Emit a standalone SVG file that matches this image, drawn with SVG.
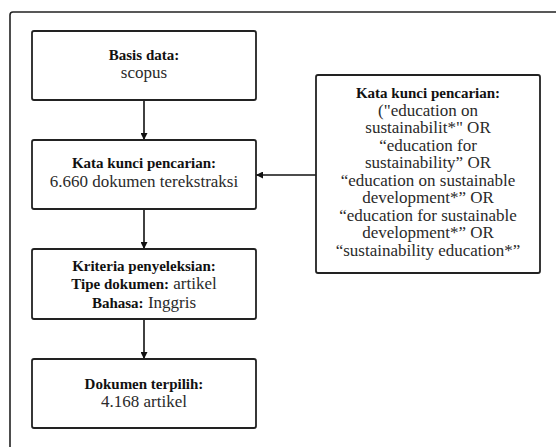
<svg xmlns="http://www.w3.org/2000/svg" width="556" height="447" viewBox="0 0 556 447">
<defs>
<style>
.box{fill:#fff;stroke:#222;stroke-width:1.8}
.frame{fill:none;stroke:#222;stroke-width:1.6}
.t{font-family:"Liberation Serif","Times New Roman",serif;text-anchor:middle;fill:#2a2a2a;font-size:17px}
.b{font-weight:bold;font-size:15px;fill:#111}
.edge{stroke:#111;stroke-width:1.6;fill:none;marker-end:url(#ah)}
</style>
<marker id="ah" viewBox="0 0 10 10" refX="10" refY="5" markerWidth="7" markerHeight="7" markerUnits="userSpaceOnUse" orient="auto">
<path d="M0,0 L10,5 L0,10 z" fill="#111"/>
</marker>
</defs>
<rect width="556" height="447" fill="#fff"/>
<rect class="frame" x="10" y="12" width="570" height="460" rx="3"/>
<g id="connectors">
<line class="edge" x1="144" y1="100" x2="144" y2="140"/>
<line class="edge" x1="144" y1="209" x2="144" y2="249"/>
<line class="edge" x1="144" y1="319" x2="144" y2="359"/>
<line class="edge" x1="316" y1="175" x2="256" y2="175"/>
</g>
<g id="basis-data">
<rect class="box" x="32" y="31" width="224" height="69" rx="2"/>
<text class="t" x="144" y="60"><tspan class="b">Basis data:</tspan></text>
<text class="t" x="144" y="78">scopus</text>
</g>
<g id="kata-kunci">
<rect class="box" x="32" y="140" width="224" height="69" rx="2"/>
<text class="t" x="144" y="168"><tspan class="b">Kata kunci pencarian:</tspan></text>
<text class="t" x="144" y="187">6.660 dokumen terekstraksi</text>
</g>
<g id="kriteria">
<rect class="box" x="32" y="249" width="224" height="70" rx="2"/>
<text class="t" x="144" y="271"><tspan class="b">Kriteria penyeleksian:</tspan></text>
<text class="t" x="144" y="289"><tspan class="b">Tipe dokumen:</tspan> artikel</text>
<text class="t" x="144" y="307.5"><tspan class="b">Bahasa:</tspan> Inggris</text>
</g>
<g id="dokumen-terpilih">
<rect class="box" x="32" y="359" width="224" height="69" rx="2"/>
<text class="t" x="144" y="389"><tspan class="b">Dokumen terpilih:</tspan></text>
<text class="t" x="144" y="407">4.168 artikel</text>
</g>
<g id="kata-kunci-detail">
<rect class="box" x="316" y="75" width="224" height="198" rx="2"/>
<text class="t" x="428" y="98"><tspan class="b">Kata kunci pencarian:</tspan></text>
<text class="t" x="428" y="115.5">("education on</text>
<text class="t" x="428" y="133">sustainabilit*" OR</text>
<text class="t" x="428" y="150.5">“education for</text>
<text class="t" x="428" y="168">sustainability” OR</text>
<text class="t" x="428" y="185.5">“education on sustainable</text>
<text class="t" x="428" y="203">development*” OR</text>
<text class="t" x="428" y="220.5">“education for sustainable</text>
<text class="t" x="428" y="238">development*” OR</text>
<text class="t" x="428" y="255.5">“sustainability education*”</text>
</g>
</svg>
